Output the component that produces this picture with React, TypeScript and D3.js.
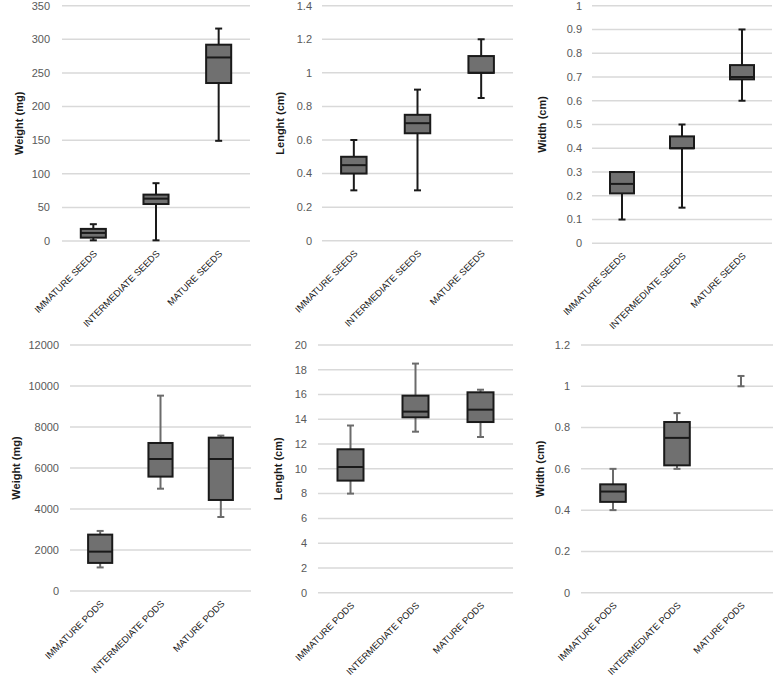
import React from "react";
import * as d3 from "d3";

// ---- Data: [min, Q1, median, Q3, max] ----
const seedCategories = ["IMMATURE SEEDS", "INTERMEDIATE SEEDS", "MATURE SEEDS"];
const podCategories = ["IMMATURE PODS", "INTERMEDIATE PODS", "MATURE PODS"];

const seedWeight = [
  [1, 5, 12, 18, 25],
  [1, 55, 63, 69, 86],
  [149, 235, 273, 292, 316],
];
const seedLength = [
  [0.3, 0.4, 0.45, 0.5, 0.6],
  [0.3, 0.64, 0.7, 0.75, 0.9],
  [0.85, 1.0, 1.0, 1.1, 1.2],
];
const seedWidth = [
  [0.1, 0.21, 0.25, 0.3, 0.3],
  [0.15, 0.4, 0.4, 0.45, 0.5],
  [0.6, 0.69, 0.7, 0.75, 0.9],
];
const podWeight = [
  [1150, 1370, 1920, 2750, 2930],
  [4990, 5580, 6440, 7220, 9530],
  [3610, 4440, 6440, 7480, 7580],
];
const podLength = [
  [8, 9.05, 10.15, 11.58, 13.5],
  [13, 14.16, 14.62, 15.91, 18.5],
  [12.57, 13.78, 14.78, 16.18, 16.39],
];
const podWidth = [
  [0.4, 0.44, 0.49, 0.525, 0.6],
  [0.6, 0.617, 0.75, 0.827, 0.87],
  [1.0, 1.0, 1.0, 1.0, 1.05],
];

const ticksSeedWeight = [0, 50, 100, 150, 200, 250, 300, 350];
const ticksSeedLength = [0, 0.2, 0.4, 0.6, 0.8, 1, 1.2, 1.4];
const ticksSeedWidth = [0, 0.1, 0.2, 0.3, 0.4, 0.5, 0.6, 0.7, 0.8, 0.9, 1];
const ticksPodWeight = [0, 2000, 4000, 6000, 8000, 10000, 12000];
const ticksPodLength = [0, 2, 4, 6, 8, 10, 12, 14, 16, 18, 20];
const ticksPodWidth = [0, 0.2, 0.4, 0.6, 0.8, 1, 1.2];

const titleWeight = "Weight (mg)";
const titleLength = "Lenght (cm)";
const titleWidth = "Width (cm)";

type PanelProps = {
  cats: string[];
  stats: number[][];
  ticks: number[];
  title: string;
  x0: number;
  x1: number;
  yTop: number;
  yBottom: number;
  tickX: number;
  titleX: number;
  whiskerColor: string;
};

const FONT = "'Liberation Sans', Arial, sans-serif";

function Panel(p: PanelProps) {
  const yMax = p.ticks[p.ticks.length - 1];
  const y = d3.scaleLinear().domain([0, yMax]).range([p.yBottom, p.yTop]);
  const x = d3.scaleBand().domain(p.cats).range([p.x0, p.x1]).paddingInner(0.6).paddingOuter(0.3);
  const bw = x.bandwidth();
  const cap = 3.5;
  const fmt = (v: number) => String(+v.toFixed(3));
  const midY = (p.yTop + p.yBottom) / 2;
  return (
    <g>
      {p.ticks.map((t) => (
        <g key={t}>
          <line x1={p.x0} x2={p.x1} y1={y(t)} y2={y(t)} stroke="#d9d9d9" strokeWidth={1.5} />
          <text x={p.tickX} y={y(t)} dy="0.35em" textAnchor="end" fontSize={11} fill="#595959" fontFamily={FONT}>
            {fmt(t)}
          </text>
        </g>
      ))}
      <text
        transform={`translate(${p.titleX},${midY}) rotate(-90)`}
        textAnchor="middle"
        dy="0.35em"
        fontSize={11}
        fontWeight="bold"
        fill="#1a1a1a"
        fontFamily={FONT}
      >
        {p.title}
      </text>
      {p.cats.map((c, i) => {
        const [mn, q1, md, q3, mx] = p.stats[i];
        const cx = (x(c) as number) + bw / 2;
        return (
          <g key={c}>
            <line x1={cx} x2={cx} y1={y(mn)} y2={y(q1)} stroke={p.whiskerColor} strokeWidth={2} />
            <line x1={cx} x2={cx} y1={y(q3)} y2={y(mx)} stroke={p.whiskerColor} strokeWidth={2} />
            <line x1={cx - cap} x2={cx + cap} y1={y(mn)} y2={y(mn)} stroke={p.whiskerColor} strokeWidth={2} />
            <line x1={cx - cap} x2={cx + cap} y1={y(mx)} y2={y(mx)} stroke={p.whiskerColor} strokeWidth={2} />
            {q3 > q1 && (
              <g>
                <rect
                  x={cx - bw / 2}
                  y={y(q3)}
                  width={bw}
                  height={y(q1) - y(q3)}
                  fill="#707070"
                  stroke="#1a1a1a"
                  strokeWidth={2}
                />
                <line x1={cx - bw / 2} x2={cx + bw / 2} y1={y(md)} y2={y(md)} stroke="#1a1a1a" strokeWidth={2} />
              </g>
            )}
            <text
              transform={`translate(${cx + 2},${p.yBottom + 11}) rotate(-45)`}
              textAnchor="end"
              dy="0.35em"
              fontSize={9.4}
              fill="#1a1a1a"
              fontFamily={FONT}
            >
              {c}
            </text>
          </g>
        );
      })}
    </g>
  );
}

export default function App() {
  return (
    <svg
      width={778}
      height={678}
      style={{ position: "absolute", left: 0, top: 0, background: "#fff" }}
    >
      <rect width={778} height={678} fill="#fff" />
      <Panel cats={seedCategories} stats={seedWeight} ticks={ticksSeedWeight} title={titleWeight}
        x0={62} x1={250} yTop={5.7} yBottom={241} tickX={50} titleX={19} whiskerColor="#1a1a1a" />
      <Panel cats={seedCategories} stats={seedLength} ticks={ticksSeedLength} title={titleLength}
        x0={322} x1={513} yTop={5.7} yBottom={240.7} tickX={312} titleX={280} whiskerColor="#1a1a1a" />
      <Panel cats={seedCategories} stats={seedWidth} ticks={ticksSeedWidth} title={titleWidth}
        x0={592} x1={772} yTop={5.7} yBottom={243.3} tickX={582} titleX={542} whiskerColor="#1a1a1a" />
      <Panel cats={podCategories} stats={podWeight} ticks={ticksPodWeight} title={titleWeight}
        x0={70} x1={251} yTop={345} yBottom={591} tickX={59} titleX={16} whiskerColor="#6b6b6b" />
      <Panel cats={podCategories} stats={podLength} ticks={ticksPodLength} title={titleLength}
        x0={318} x1={513} yTop={345} yBottom={592.7} tickX={307} titleX={278} whiskerColor="#6b6b6b" />
      <Panel cats={podCategories} stats={podWidth} ticks={ticksPodWidth} title={titleWidth}
        x0={581} x1={773} yTop={345} yBottom={592.7} tickX={570} titleX={540} whiskerColor="#6b6b6b" />
    </svg>
  );
}
